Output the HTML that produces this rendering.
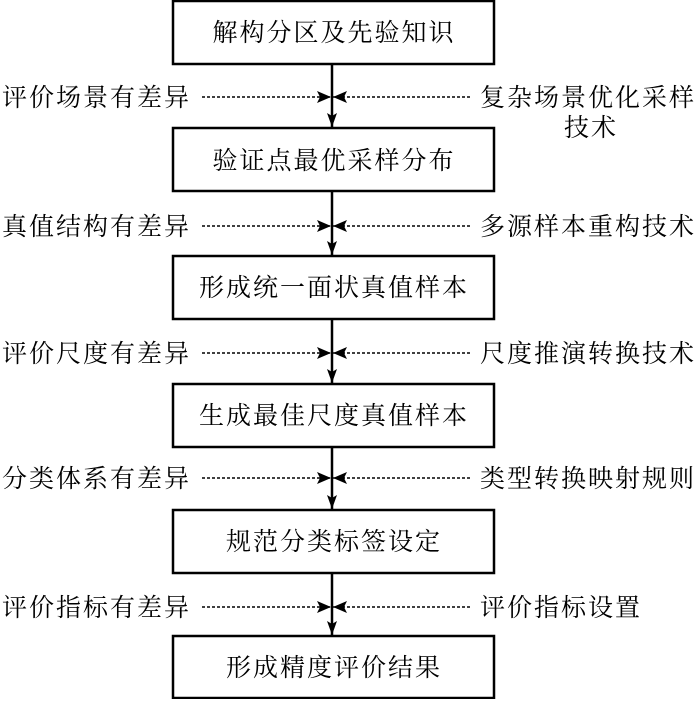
<!DOCTYPE html>
<html><head><meta charset="utf-8"><style>
html,body{margin:0;padding:0;background:#fff;}
svg text{font-family:"Noto Serif CJK SC","Liberation Serif",serif;font-size:25px;fill:#000;letter-spacing:2px;}
</style></head><body>
<svg width="700" height="699" viewBox="0 0 700 699" xmlns="http://www.w3.org/2000/svg">
<defs>
<marker id="ad" viewBox="0 0 10 14" refX="5" refY="14" markerWidth="10" markerHeight="14" markerUnits="userSpaceOnUse" orient="0"><path d="M0,0 L5,14 L10,0 L5,3 Z" fill="#000"/></marker>
<marker id="ah" viewBox="0 0 14 12" refX="14" refY="6" markerWidth="14" markerHeight="12" markerUnits="userSpaceOnUse" orient="auto"><path d="M0,0 L14,6 L0,12 L3,6 Z" fill="#000"/></marker>
</defs>
<g fill="none" stroke="#000" stroke-width="2.5">
<rect x="173" y="1" width="321" height="63"/>
<rect x="173" y="128" width="321" height="63"/>
<rect x="173" y="256" width="321" height="63"/>
<rect x="173" y="384" width="321" height="63"/>
<rect x="173" y="510" width="321" height="63"/>
<rect x="173" y="636" width="321" height="62"/>
</g>
<g stroke="#000" stroke-width="2.5" marker-end="url(#ad)">
<line x1="332" y1="64" x2="332" y2="127"/>
<line x1="332" y1="191" x2="332" y2="255"/>
<line x1="332" y1="319" x2="332" y2="383"/>
<line x1="332" y1="447" x2="332" y2="509"/>
<line x1="332" y1="573" x2="332" y2="635"/>
</g>
<g stroke="#000" stroke-width="1.5" stroke-dasharray="3,2" marker-end="url(#ah)">
<line x1="202" y1="97" x2="331" y2="97"/><line x1="470" y1="97" x2="333" y2="97"/>
<line x1="202" y1="226" x2="331" y2="226"/><line x1="470" y1="226" x2="333" y2="226"/>
<line x1="202" y1="353" x2="331" y2="353"/><line x1="470" y1="353" x2="333" y2="353"/>
<line x1="202" y1="478" x2="331" y2="478"/><line x1="470" y1="478" x2="333" y2="478"/>
<line x1="202" y1="607" x2="331" y2="607"/><line x1="470" y1="607" x2="333" y2="607"/>
</g>
<g text-anchor="middle">
<text x="334" y="41">解构分区及先验知识</text>
<text x="334" y="169">验证点最优采样分布</text>
<text x="334" y="296">形成统一面状真值样本</text>
<text x="334" y="424">生成最佳尺度真值样本</text>
<text x="334" y="550">规范分类标签设定</text>
<text x="334" y="676">形成精度评价结果</text>
<text x="591" y="136">技术</text>
</g>
<g>
<text x="2" y="106">评价场景有差异</text>
<text x="2" y="235">真值结构有差异</text>
<text x="2" y="362">评价尺度有差异</text>
<text x="2" y="487">分类体系有差异</text>
<text x="2" y="616">评价指标有差异</text>
<text x="480" y="106">复杂场景优化采样</text>
<text x="480" y="235">多源样本重构技术</text>
<text x="480" y="362">尺度推演转换技术</text>
<text x="480" y="487">类型转换映射规则</text>
<text x="480" y="616">评价指标设置</text>
</g>
</svg>
</body></html>
